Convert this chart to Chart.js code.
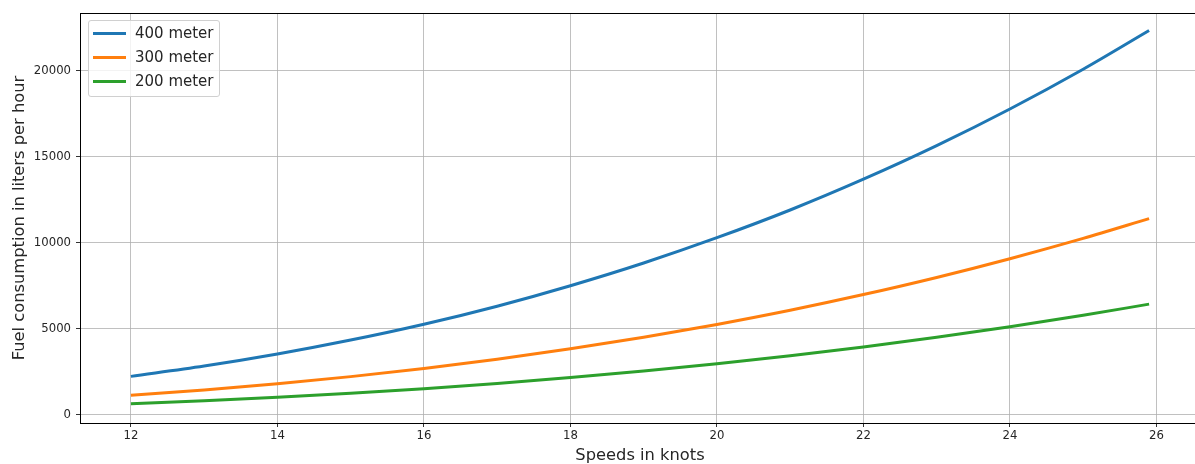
<!DOCTYPE html>
<html>
<head>
<meta charset="utf-8">
<script src="https://cdn.jsdelivr.net/npm/chart.js@4/dist/chart.umd.min.js"></script>
<style>
  html, body { margin: 0; padding: 0; background: #fff; overflow: hidden; }
  #wrap { position: relative; width: 1200px; height: 464px; }
  #legend { position: absolute; left: 88px; top: 20px; width: 132px; height: 77px;
    border: 1px solid #d0d0d0; border-radius: 3px; background: rgba(255,255,255,0.8);
    font-family: "DejaVu Sans", sans-serif; font-size: 15px; color: #262626; box-sizing: border-box; }
  .item { position: absolute; left: 4px; height: 20px; line-height: 20px; white-space: nowrap; }
  .item span.sw { position: absolute; left: 0; top: 9px; width: 33px; height: 3px; }
  .item span.tx { position: absolute; left: 42px; top: 0; }
</style>
</head>
<body>
<div id="wrap">
  <canvas id="c" width="1200" height="464"></canvas>
  <div id="legend"></div>
</div>
<script>
const speeds = [12, 13, 14, 15, 16, 17, 18, 19, 20, 21, 22, 23, 24, 25, 25.9];
const fuel400 = [2230, 2830, 3530, 4340, 5260, 6310, 7500, 8820, 10290, 11900, 13690, 15640, 17770, 20080, 22330];
const fuel300 = [1135, 1440, 1800, 2215, 2690, 3225, 3830, 4500, 5250, 6075, 6985, 7980, 9070, 10250, 11400];
const fuel200 = [640, 815, 1015, 1250, 1515, 1820, 2160, 2540, 2960, 3430, 3940, 4500, 5115, 5780, 6430];
const seriesNames = ["400 meter", "300 meter", "200 meter"];
const seriesColors = ["#1f77b4", "#ff7f0e", "#2ca02c"];
const xTicks = [12, 14, 16, 18, 20, 22, 24, 26];
const yTicks = [0, 5000, 10000, 15000, 20000];

const seriesValues = [fuel400, fuel300, fuel200];
const datasets = seriesValues.map((vals, i) => ({
  label: seriesNames[i],
  data: speeds.map((s, j) => ({ x: s, y: vals[j] })),
  borderColor: seriesColors[i],
  backgroundColor: seriesColors[i],
  borderWidth: 3,
  pointRadius: 0,
  fill: false,
  cubicInterpolationMode: 'monotone'
}));

// HTML legend (real text)
const leg = document.getElementById('legend');
seriesNames.forEach((n, i) => {
  const d = document.createElement('div');
  d.className = 'item';
  d.style.top = (2 + i * 24) + 'px';
  d.innerHTML = '<span class="sw" style="background:' + seriesColors[i] + '"></span><span class="tx">' + n + '</span>';
  leg.appendChild(d);
});

const frame = {
  id: 'frame',
  afterDraw(chart) {
    const a = chart.chartArea, ctx = chart.ctx;
    ctx.save();
    ctx.strokeStyle = '#000';
    ctx.lineWidth = 1;
    ctx.strokeRect(Math.round(a.left) + 0.5, Math.round(a.top) + 0.5, Math.round(a.right - a.left), Math.round(a.bottom - a.top));
    ctx.restore();
  }
};

Chart.defaults.font.family = '"DejaVu Sans", sans-serif';
Chart.defaults.color = '#262626';

new Chart(document.getElementById('c'), {
  type: 'line',
  data: { datasets },
  plugins: [frame],
  options: {
    responsive: false,
    animation: false,
    layout: { padding: { top: 13, right: 0, left: 0, bottom: 0 } },
    plugins: { legend: { display: false }, tooltip: { enabled: false } },
    scales: {
      x: {
        type: 'linear',
        min: 11.305, max: 26.595,
        afterBuildTicks(scale) { scale.ticks = xTicks.map(v => ({ value: v })); },
        afterFit(scale) { scale.height = 41; },
        ticks: { font: { size: 11.7 }, color: '#262626', padding: 2, maxRotation: 0,
          callback: v => String(v) },
        grid: { color: '#b0b0b0', lineWidth: 0.8, tickLength: 4, tickColor: '#000', drawOnChartArea: true },
        border: { display: false },
        title: { display: true, text: 'Speeds in knots', font: { size: 16.3, lineHeight: 1.0 }, color: '#262626', padding: { top: 0, bottom: 0 } }
      },
      y: {
        type: 'linear',
        min: -480, max: 23350,
        afterBuildTicks(scale) { scale.ticks = yTicks.map(v => ({ value: v })); },
        afterFit(scale) { scale.width = 80; },
        ticks: { font: { size: 11.7 }, color: '#262626', padding: 5,
          callback: v => String(v) },
        grid: { color: '#b0b0b0', lineWidth: 0.8, tickLength: 4, tickColor: '#000' },
        border: { display: false },
        title: { display: true, text: 'Fuel consumption in liters per hour', font: { size: 16.3, lineHeight: 1.0 }, color: '#262626', padding: { top: 12, bottom: 0 } }
      }
    }
  }
});
</script>
</body>
</html>
